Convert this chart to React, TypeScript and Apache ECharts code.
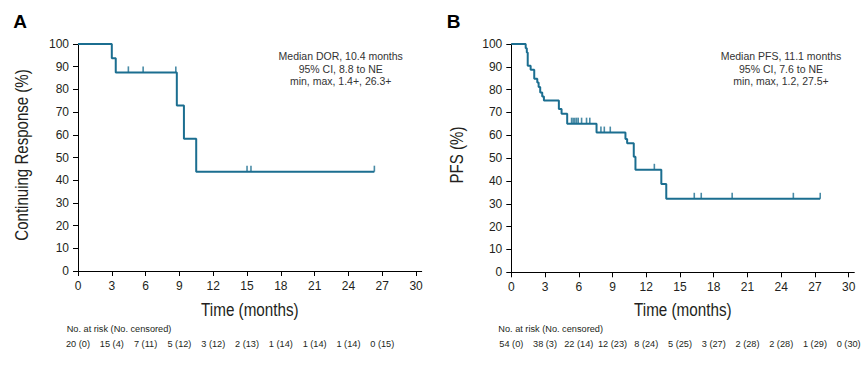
import React, { useEffect, useRef } from 'react';
import * as echarts from 'echarts';

// ---- data ----
const xTicks = [0, 3, 6, 9, 12, 15, 18, 21, 24, 27, 30];

// Panel A: duration of response (KM steps)
const dorTimes = [0, 3.0, 3.35, 8.77, 9.4, 10.49, 26.3];
const dorValues = [100, 93.75, 87.5, 72.9, 58.3, 43.75, 43.75];
const dorCensorTimes = [4.47, 5.78, 8.68, 15.0, 15.35, 26.3];
const dorRiskTimes = [0, 3, 6, 9, 12, 15, 18, 21, 24, 27];
const dorRisk = ['20 (0)', '15 (4)', '7 (11)', '5 (12)', '3 (12)', '2 (13)', '1 (14)', '1 (14)', '1 (14)', '0 (15)'];
const dorNote = ['Median DOR, 10.4 months', '95% CI, 8.8 to NE', 'min, max, 1.4+, 26.3+'];

// Panel B: progression-free survival (KM steps)
const pfsTimes = [0, 1.28, 1.38, 1.46, 1.72, 2.04, 2.31, 2.43, 2.57, 2.75, 2.9, 4.23, 4.47, 4.97, 7.58, 10.15, 10.3, 10.89, 11.04, 13.34, 13.78, 27.47];
const pfsValues = [100, 98.1, 96.3, 90.5, 88.7, 84.8, 83.1, 81.2, 78.8, 77.0, 75.2, 71.5, 69.4, 65.1, 61.2, 58.4, 56.5, 50.6, 44.9, 38.7, 32.2, 32.2];
const pfsCensorTimes = [5.36, 5.5, 5.65, 5.8, 5.95, 6.25, 6.69, 6.98, 7.97, 8.27, 8.8, 12.72, 16.27, 16.89, 19.64, 25.08, 27.47];
const pfsRiskTimes = [0, 3, 6, 9, 12, 15, 18, 21, 24, 27, 30];
const pfsRisk = ['54 (0)', '38 (3)', '22 (14)', '12 (23)', '8 (24)', '5 (25)', '3 (27)', '2 (28)', '2 (28)', '1 (29)', '0 (30)'];
const pfsNote = ['Median PFS, 11.1 months', '95% CI, 7.6 to NE', 'min, max, 1.2, 27.5+'];

const LINE = '#1b6e90';
const TEXT = '#231f20';
const FONT = '"Liberation Sans", Arial, sans-serif';

function levelAt(times: number[], values: number[], t: number) {
  let v = values[0];
  for (let i = 0; i < times.length; i++) if (times[i] <= t) v = values[i];
  return v;
}

function xAxis(gridIndex: number) {
  return {
    type: 'value', gridIndex, min: 0, max: 30.5, interval: 3,
    axisLine: { lineStyle: { color: '#000', width: 1 } },
    axisTick: { length: 5, lineStyle: { color: '#000' }, customValues: xTicks },
    axisLabel: { fontSize: 12, color: TEXT, fontFamily: FONT, margin: 9, customValues: xTicks },
    splitLine: { show: false },
  };
}

function yAxis(gridIndex: number) {
  return {
    type: 'value', gridIndex, min: 0, max: 100, interval: 10,
    axisLine: { show: true, lineStyle: { color: '#000', width: 1 } },
    axisTick: { show: true, length: 5, lineStyle: { color: '#000' } },
    axisLabel: { fontSize: 12, color: TEXT, fontFamily: FONT, margin: 9 },
    splitLine: { show: false },
  };
}

export default function App() {
  const ref = useRef<HTMLDivElement>(null);
  useEffect(() => {
    document.body.style.margin = '0';
    const chart = echarts.init(ref.current!, null, { renderer: 'svg' });
    const option: any = {
      animation: false,
      backgroundColor: '#fff',
      grid: [
        { left: 78, top: 44, width: 343.7, height: 227 },
        { left: 511.3, top: 44, width: 343, height: 228.3 },
      ],
      xAxis: [xAxis(0), xAxis(1)],
      yAxis: [yAxis(0), yAxis(1)],
      series: [
        {
          type: 'line', xAxisIndex: 0, yAxisIndex: 0, step: 'end', showSymbol: false,
          lineStyle: { color: LINE, width: 2 }, itemStyle: { color: LINE },
          data: dorTimes.map((t, i) => [t, dorValues[i]]),
        },
        {
          type: 'scatter', xAxisIndex: 0, yAxisIndex: 0, symbol: 'rect',
          symbolSize: [1.6, 6], symbolOffset: [0, -3], itemStyle: { color: LINE },
          data: dorCensorTimes.map((t) => [t, levelAt(dorTimes, dorValues, t)]),
        },
        {
          type: 'line', xAxisIndex: 1, yAxisIndex: 1, step: 'end', showSymbol: false,
          lineStyle: { color: LINE, width: 2 }, itemStyle: { color: LINE },
          data: pfsTimes.map((t, i) => [t, pfsValues[i]]),
        },
        {
          type: 'scatter', xAxisIndex: 1, yAxisIndex: 1, symbol: 'rect',
          symbolSize: [1.6, 6], symbolOffset: [0, -3], itemStyle: { color: LINE },
          data: pfsCensorTimes.map((t) => [t, levelAt(pfsTimes, pfsValues, t)]),
        },
      ],
    };
    chart.setOption(option);

    const graphics: any[] = [];
    const panel = (idx: number, letter: string, letterX: number, yTitle: string, yTitleX: number,
      note: string[], noteX: number, riskTimes: number[], risk: string[], headerX: number) => {
      graphics.push({
        type: 'text', x: letterX, y: 21.5,
        style: { text: letter, font: `bold 19px ${FONT}`, fill: '#000', textAlign: 'center', textVerticalAlign: 'middle' },
      });
      const xMid = chart.convertToPixel({ xAxisIndex: idx }, 15.25) as number;
      graphics.push({
        type: 'text', x: xMid, y: 310, scaleX: 0.87,
        style: { text: 'Time (months)', font: `17.5px ${FONT}`, fill: TEXT, textAlign: 'center', textVerticalAlign: 'middle' },
      });
      graphics.push({
        type: 'text', x: yTitleX, y: 155, rotation: Math.PI / 2, scaleX: 0.86,
        style: { text: yTitle, font: `17.5px ${FONT}`, fill: TEXT, textAlign: 'center', textVerticalAlign: 'middle' },
      });
      graphics.push({
        type: 'text', x: noteX, y: 49.7,
        style: { text: note.join('\n'), font: `10.5px ${FONT}`, fill: '#333', textAlign: 'center', textVerticalAlign: 'top', lineHeight: 12.7 },
      });
      graphics.push({
        type: 'text', x: headerX, y: 329,
        style: { text: 'No. at risk (No. censored)', font: `9.2px ${FONT}`, fill: TEXT, textAlign: 'left', textVerticalAlign: 'middle' },
      });
      riskTimes.forEach((t, i) => {
        const px = chart.convertToPixel({ xAxisIndex: idx }, t) as number;
        graphics.push({
          type: 'text', x: px, y: 343.7,
          style: { text: risk[i], font: `9.2px ${FONT}`, fill: TEXT, textAlign: 'center', textVerticalAlign: 'middle' },
        });
      });
    };
    panel(0, 'A', 20, 'Continuing Response (%)', 21.5, dorNote, 340.7, dorRiskTimes, dorRisk, 66.7);
    panel(1, 'B', 453.7, 'PFS (%)', 456.5, pfsNote, 781, pfsRiskTimes, pfsRisk, 498.3);
    chart.setOption({ graphic: graphics });

    return () => chart.dispose();
  }, []);
  return <div ref={ref} style={{ width: 868, height: 365 }} />;
}
